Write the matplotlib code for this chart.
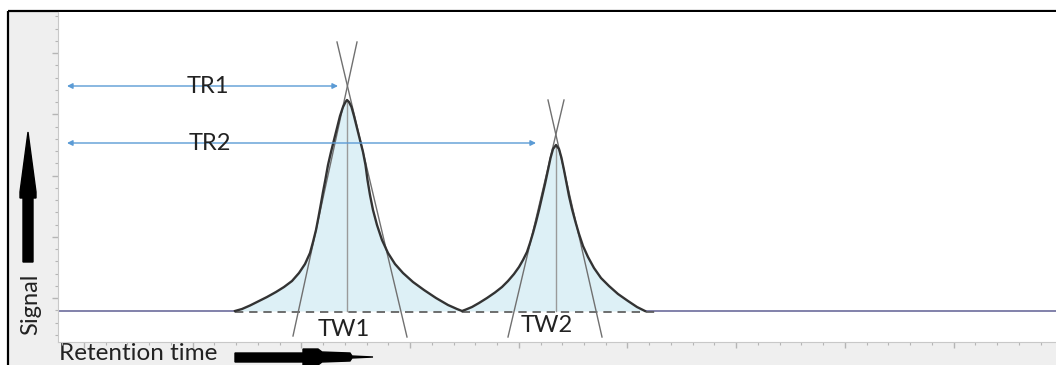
import matplotlib.pyplot as plt
from matplotlib.patches import Polygon, Rectangle
from matplotlib.ticker import MultipleLocator

# Chromatogram outline (retention time in scan units, signal in arbitrary units)
peak1_t = [235, 242, 250, 258, 267, 276, 284, 292, 299, 305, 310, 313, 316, 318.5,
           320.7, 323, 325.3, 328, 331, 334, 337, 340, 343, 345.5, 347,
           349, 351.5, 354, 357, 360, 363, 365.5, 367.5, 370, 373, 377, 382, 388,
           395, 403, 413, 424, 436, 448, 457, 462]
peak1_s = [0, 2, 5.5, 9.5, 14, 19, 24, 30, 38, 47, 58, 69, 81, 94,
           106, 119, 131, 146, 159, 171, 183, 195, 204, 209, 211,
           209, 204, 195, 183, 171, 159, 146, 131, 116, 101, 86, 71, 58,
           47, 38, 29, 21, 13, 6, 2, 0]
peak2_t = [466, 472, 479, 487, 495, 502, 508, 514, 519, 523, 527, 530, 533, 536,
           539, 542, 545, 548, 550.5, 553, 556,
           559, 561.5, 564, 566.5, 569, 572, 575.5, 579, 583, 588, 594, 601, 609,
           618, 628, 637, 645]
peak2_s = [1.5, 4, 8, 13, 18.5, 24, 30, 37, 44, 51, 59, 68, 78, 89,
           101, 114, 127, 141, 153, 162, 166,
           162, 153, 141, 128, 115, 102, 89, 77, 65, 54, 43, 33, 25,
           17, 10, 4, 0]

# peak apexes
apex_t = [347, 556]
apex_s = [211, 166]

# tangent lines (start / end points)
tan_t0 = [293, 407, 508, 602]
tan_s0 = [-25, -26, -26, -26]
tan_t1 = [357, 337, 564, 548]
tan_s1 = [269, 269, 211, 211]

# retention time arrows
tr_labels = ["TR1", "TR2"]
tr_start = 67
tr_end = [338, 536]
tr_level = [225, 168]
tr_text_t = [208, 210]

# peak width labels
tw_labels = ["TW1", "TW2"]
tw_t = [344, 547]
tw_s = [-18, -15]

baseline_dash = (235, 655)

W, H = 1056, 365
FONT = ["Lato", "DejaVu Sans"]
TXT = "#222222"

trace_t = peak1_t + peak2_t
trace_s = peak1_s + peak2_s

fig = plt.figure(figsize=(W / 100, H / 100), dpi=100)

# background layer in pixel coordinates (frame, grey margins, axis captions)
bg = fig.add_axes([0, 0, 1, 1], zorder=0)
bg.set_xlim(0, W)
bg.set_ylim(H, 0)
bg.axis("off")
bg.add_patch(Rectangle((8, 11), W, H, facecolor="#efefef", edgecolor="none"))
bg.plot([8, W], [11, 11], color="black", lw=1.6, solid_capstyle="butt")
bg.plot([8, 8], [11, H], color="black", lw=1.6, solid_capstyle="butt")

# vertical "Signal" arrow
bg.add_patch(Polygon([(23, 262), (33, 262), (33, 198), (36, 198), (36, 192), (28, 132),
                      (20, 192), (20, 198), (23, 198)], closed=True, color="black"))
bg.text(31, 304, "Signal", rotation=90, ha="center", va="center",
        fontsize=17, color=TXT, family=FONT)

# horizontal "Retention time" arrow
bg.add_patch(Polygon([(235, 353), (303, 353), (303, 349), (318, 349), (322, 352), (350, 353),
                      (352, 356), (373, 357), (352, 358), (350, 361), (322, 362), (318, 365),
                      (303, 365), (303, 362), (235, 362)], closed=True, color="black"))
bg.text(59, 364.5, "Retention time", ha="left", va="bottom",
        fontsize=17.5, color=TXT, family=FONT)

# main plot area
ax = fig.add_axes([58 / W, (H - 342) / H, (W - 58) / W, 330 / H], zorder=1)
ax.set_facecolor("white")
ax.set_xlim(58, 1056)
ax.set_ylim(-31, 299)

for side in ["top", "right"]:
    ax.spines[side].set_visible(False)
for side in ["left", "bottom"]:
    ax.spines[side].set_color("#c8c8c8")
ax.xaxis.set_major_locator(MultipleLocator(108.7, offset=84))
ax.xaxis.set_minor_locator(MultipleLocator(21.74, offset=84))
ax.yaxis.set_major_locator(MultipleLocator(61.25, offset=13))
ax.yaxis.set_minor_locator(MultipleLocator(12.25, offset=13))
ax.tick_params(which="both", direction="out", color="#b5b5b5",
               labelbottom=False, labelleft=False)
ax.tick_params(which="major", length=4.5, width=1)
ax.tick_params(which="minor", length=2, width=0.8)

# solid baseline outside the peaks
xl = ax.get_xlim()
ax.plot([xl[0], trace_t[0]], [0, 0], color="#6c6c9c", lw=1.2, zorder=2)
ax.plot([trace_t[-1], xl[1]], [0, 0], color="#6c6c9c", lw=1.2, zorder=2)

# shaded peaks
ax.fill_between(trace_t, trace_s, 0, color="#ddf0f6", lw=0, zorder=1)
ax.plot(baseline_dash, [-1, -1], color="#555555", lw=1.2, ls=(0, (5, 3.5)), zorder=3)

# apex verticals
for t, s in zip(apex_t, apex_s):
    ax.plot([t, t], [0, s], color="#9a9a9a", lw=1, zorder=2)

# tangents
for t0, s0, t1, s1 in zip(tan_t0, tan_s0, tan_t1, tan_s1):
    ax.plot([t0, t1], [s0, s1], color="#707070", lw=1, zorder=3)

ax.plot(trace_t, trace_s, color="#333333", lw=1.7, zorder=4,
        solid_joinstyle="round")

# retention time arrows
for lab, te, lv, tt in zip(tr_labels, tr_end, tr_level, tr_text_t):
    ax.annotate("", xy=(te, lv), xytext=(tr_start, lv),
                arrowprops=dict(arrowstyle="<|-|>", color="#5b9bd5", lw=1,
                                mutation_scale=8, shrinkA=0, shrinkB=0), zorder=5)
    ax.text(tt, lv, lab, ha="center", va="center", fontsize=17, color=TXT,
            family=FONT, zorder=6)

for lab, t, s in zip(tw_labels, tw_t, tw_s):
    ax.text(t, s, lab, ha="center", va="center", fontsize=17, color=TXT,
            family=FONT, zorder=6)

plt.savefig("out.png", dpi=100)
plt.close()
